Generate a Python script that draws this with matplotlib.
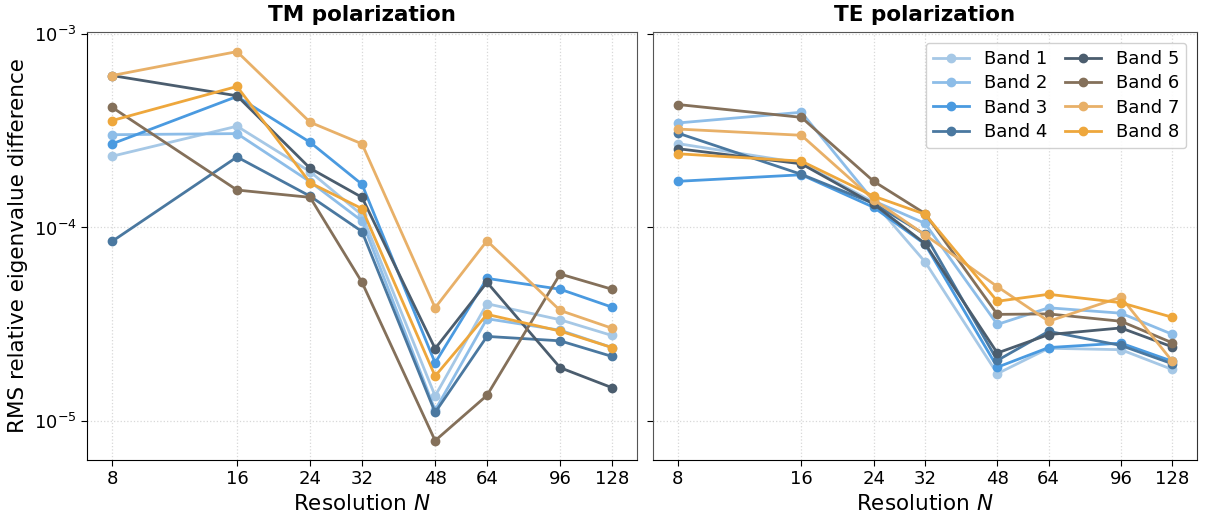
import matplotlib
matplotlib.use("Agg")
import matplotlib.pyplot as plt
from matplotlib.ticker import FixedLocator, NullLocator, LogLocator

resolutions = [8, 16, 24, 32, 48, 64, 96, 128]
bands = ["Band 1", "Band 2", "Band 3", "Band 4", "Band 5", "Band 6", "Band 7", "Band 8"]
colors = ["#a6c8e6", "#8dbde8", "#4a9ae0", "#4a78a0",
          "#4b5d6e", "#84705a", "#e8b068", "#eea73c"]

# RMS relative eigenvalue difference, one list per band
tm_err = [
    [2.33e-4, 3.33e-4, 1.94e-4, 1.16e-4, 1.35e-5, 4.04e-5, 3.34e-5, 2.77e-5],
    [3.01e-4, 3.05e-4, 1.72e-4, 1.08e-4, 1.14e-5, 3.38e-5, 2.95e-5, 2.40e-5],
    [2.70e-4, 4.74e-4, 2.75e-4, 1.67e-4, 2.00e-5, 5.46e-5, 4.80e-5, 3.88e-5],
    [8.47e-5, 2.31e-4, 1.45e-4, 9.53e-5, 1.11e-5, 2.74e-5, 2.60e-5, 2.16e-5],
    [6.08e-4, 4.78e-4, 2.02e-4, 1.43e-4, 2.37e-5, 5.21e-5, 1.89e-5, 1.49e-5],
    [4.17e-4, 1.56e-4, 1.43e-4, 5.21e-5, 7.94e-6, 1.36e-5, 5.75e-5, 4.80e-5],
    [6.08e-4, 8.08e-4, 3.49e-4, 2.70e-4, 3.85e-5, 8.53e-5, 3.73e-5, 3.02e-5],
    [3.56e-4, 5.34e-4, 1.70e-4, 1.25e-4, 1.71e-5, 3.56e-5, 2.92e-5, 2.40e-5],
]
te_err = [
    [2.71e-4, 2.15e-4, 1.35e-4, 6.65e-5, 1.76e-5, 2.38e-5, 2.34e-5, 1.85e-5],
    [3.46e-4, 3.93e-4, 1.37e-4, 1.05e-4, 3.16e-5, 3.85e-5, 3.61e-5, 2.81e-5],
    [1.73e-4, 1.87e-4, 1.27e-4, 8.20e-5, 1.90e-5, 2.40e-5, 2.53e-5, 2.04e-5],
    [3.07e-4, 1.88e-4, 1.33e-4, 9.20e-5, 2.06e-5, 2.91e-5, 2.46e-5, 1.98e-5],
    [2.55e-4, 2.13e-4, 1.32e-4, 8.26e-5, 2.25e-5, 2.80e-5, 3.03e-5, 2.42e-5],
    [4.31e-4, 3.70e-4, 1.73e-4, 1.18e-4, 3.56e-5, 3.58e-5, 3.28e-5, 2.54e-5],
    [3.22e-4, 2.99e-4, 1.39e-4, 9.16e-5, 4.95e-5, 3.28e-5, 4.37e-5, 2.04e-5],
    [2.40e-4, 2.20e-4, 1.45e-4, 1.17e-4, 4.16e-5, 4.52e-5, 4.09e-5, 3.44e-5],
]

plt.rcParams["font.family"] = "DejaVu Sans"

fig = plt.figure(figsize=(12.12, 5.15), dpi=100)
ax1 = fig.add_axes([87 / 1212, 55 / 515, 550 / 1212, 428 / 515])
ax2 = fig.add_axes([653 / 1212, 55 / 515, 544 / 1212, 428 / 515], sharey=ax1)

for ax, data, title in [(ax1, tm_err, "TM polarization"), (ax2, te_err, "TE polarization")]:
    for name, col, vals in zip(bands, colors, data):
        ax.plot(resolutions, vals, "-o", color=col, lw=2, ms=6, label=name)
    ax.set_xscale("log")
    ax.set_yscale("log")
    ax.xaxis.set_major_locator(FixedLocator(resolutions))
    ax.xaxis.set_minor_locator(NullLocator())
    ax.set_xticklabels([str(r) for r in resolutions])
    ax.yaxis.set_major_locator(LogLocator(base=10, numticks=10))
    ax.yaxis.set_minor_locator(NullLocator())
    ax.grid(True, ls=":", color="#d8d8d8", lw=0.9)
    ax.tick_params(labelsize=13, length=4)
    ax.set_title(title, fontsize=15.5, fontweight="bold", pad=8)
    ax.set_xlabel("Resolution $N$", fontsize=15.5)
    for s in ax.spines.values():
        s.set_color("#555555")
    ax.spines["bottom"].set_color("black")

ax1.spines["left"].set_color("black")
ax2.spines["right"].set_color("#333333")
ax1.set_ylim(10 ** -5.2, 1.02e-3)
ax1.set_ylabel("RMS relative eigenvalue difference", fontsize=15.5)
ax2.tick_params(labelleft=False)

ax2.legend(ncol=2, loc="upper right", fontsize=13, columnspacing=1.0,
           handlelength=2.0, labelspacing=0.35, borderaxespad=0.6,
           framealpha=0.9, edgecolor="#cccccc")

fig.savefig("out.png", dpi=100)
